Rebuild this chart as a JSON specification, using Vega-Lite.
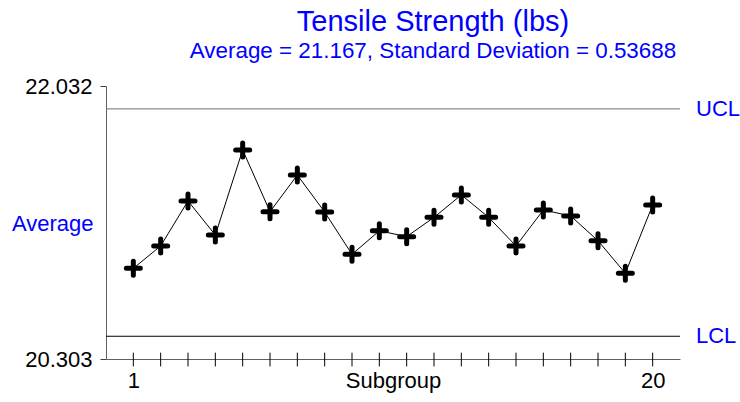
{
  "$schema": "https://vega.github.io/schema/vega-lite/v6.json",
  "width": 574,
  "height": 273,
  "autosize": {"type": "none"},
  "padding": {"left": 106, "top": 86, "right": 60, "bottom": 43},
  "background": "white",
  "config": {"view": {"stroke": null}, "font": "Liberation Sans"},
  "title": {
    "text": "Tensile Strength (lbs)",
    "subtitle": "Average = 21.167, Standard Deviation = 0.53688",
    "color": "#0000FF",
    "subtitleColor": "#0000FF",
    "fontSize": 29,
    "subtitleFontSize": 22.4,
    "fontWeight": "normal",
    "font": "Liberation Sans",
    "subtitleFont": "Liberation Sans",
    "anchor": "middle",
    "frame": "group",
    "dx": 40,
    "offset": 13,
    "subtitlePadding": 3
  },
  "datasets": {
    "points": [
      {"subgroup": 1, "value": 20.877},
      {"subgroup": 2, "value": 21.019},
      {"subgroup": 3, "value": 21.304},
      {"subgroup": 4, "value": 21.088},
      {"subgroup": 5, "value": 21.627},
      {"subgroup": 6, "value": 21.236},
      {"subgroup": 7, "value": 21.468},
      {"subgroup": 8, "value": 21.234},
      {"subgroup": 9, "value": 20.966},
      {"subgroup": 10, "value": 21.115},
      {"subgroup": 11, "value": 21.078},
      {"subgroup": 12, "value": 21.200},
      {"subgroup": 13, "value": 21.342},
      {"subgroup": 14, "value": 21.200},
      {"subgroup": 15, "value": 21.019},
      {"subgroup": 16, "value": 21.247},
      {"subgroup": 17, "value": 21.209},
      {"subgroup": 18, "value": 21.052},
      {"subgroup": 19, "value": 20.846},
      {"subgroup": 20, "value": 21.278}
    ],
    "limits": [
      {"label": "UCL", "value": 21.887},
      {"label": "LCL", "value": 20.447}
    ]
  },
  "layer": [
    {
      "data": {"name": "points"},
      "mark": {"type": "line", "color": "black", "strokeWidth": 1},
      "encoding": {
        "x": {
          "field": "subgroup",
          "type": "quantitative",
          "scale": {"domain": [0, 21], "nice": false, "zero": false},
          "axis": {
            "values": [1, 20],
            "format": "d",
            "ticks": false,
            "grid": false,
            "labelPadding": 11,
            "labelFontSize": 22,
            "labelFont": "Liberation Sans",
            "labelColor": "black",
            "labelFlush": false,
            "labelOverlap": false,
            "domainColor": "#606060",
            "title": "Subgroup",
            "titleFont": "Liberation Sans",
            "titleFontSize": 22,
            "titleFontWeight": "normal",
            "titleColor": "black",
            "titleBaseline": "top",
            "titleY": 11,
            "titlePadding": 0
          }
        },
        "y": {
          "field": "value",
          "type": "quantitative",
          "scale": {"domain": [20.303, 22.032], "nice": false, "zero": false},
          "axis": {
            "values": [20.303, 22.032],
            "format": ".3f",
            "grid": false,
            "tickSize": 6,
            "tickColor": "#404040",
            "domainColor": "#606060",
            "labelPadding": 8,
            "labelFontSize": 22,
            "labelFont": "Liberation Sans",
            "labelColor": "black",
            "labelFlush": false,
            "labelOverlap": false,
            "title": "Average",
            "titleAngle": 0,
            "titleAlign": "right",
            "titleBaseline": "middle",
            "titleX": -13,
            "titleY": 137,
            "titleColor": "#0000FF",
            "titleFont": "Liberation Sans",
            "titleFontSize": 22,
            "titleFontWeight": "normal"
          }
        }
      }
    },
    {
      "data": {"name": "limits"},
      "mark": {"type": "rule", "strokeWidth": 1},
      "encoding": {
        "y": {"field": "value", "type": "quantitative"},
        "color": {
          "field": "label",
          "type": "nominal",
          "scale": {"domain": ["UCL", "LCL"], "range": ["#707070", "#000000"]},
          "legend": null
        }
      }
    },
    {
      "data": {"name": "limits"},
      "mark": {"type": "text", "align": "left", "baseline": "middle", "dx": 16, "fontSize": 22, "font": "Liberation Sans", "color": "#0000FF"},
      "encoding": {
        "x": {"datum": 21, "type": "quantitative"},
        "y": {"field": "value", "type": "quantitative"},
        "text": {"field": "label"}
      }
    },
    {
      "data": {"name": "points"},
      "mark": {"type": "rule", "color": "black", "strokeWidth": 1},
      "encoding": {
        "x": {"field": "subgroup", "type": "quantitative"},
        "y": {"datum": 20.343, "type": "quantitative"},
        "y2": {"datum": 20.256}
      }
    },
    {
      "data": {"name": "points"},
      "mark": {"type": "point", "shape": "M-1,0L1,0M0,-1L0,1", "filled": false, "stroke": "black", "strokeWidth": 5, "strokeCap": "round", "size": 196, "opacity": 1},
      "encoding": {
        "x": {"field": "subgroup", "type": "quantitative"},
        "y": {"field": "value", "type": "quantitative"}
      }
    }
  ]
}
